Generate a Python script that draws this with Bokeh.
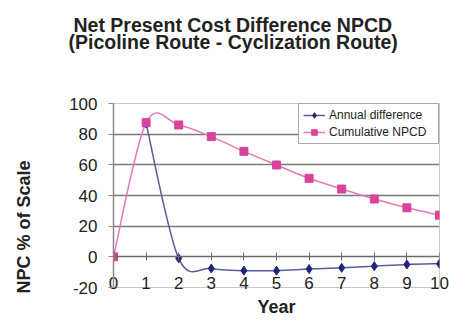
from bokeh.plotting import figure
from bokeh.embed import file_html
from bokeh.resources import INLINE
from bokeh.models import (Title, Legend, LegendItem, FixedTicker, Range1d,
                          LinearAxis, PrintfTickFormatter)

years = [0, 1, 2, 3, 4, 5, 6, 7, 8, 9, 10]
annual_years = [1, 2, 3, 4, 5, 6, 7, 8, 9, 10]
annual = [87, -1, -7.6, -9, -9, -8, -7.2, -6.1, -5, -4.5]
cumulative = [0, 87.5, 86, 78.4, 68.8, 59.9, 51.2, 44.2, 37.7, 32, 27.2]
y_ticks = [-20, 0, 20, 40, 60, 80, 100]
title1 = "Net Present Cost Difference NPCD"
title2 = "(Picoline Route - Cyclization Route)"
y_label = "NPC % of Scale"
x_label = "Year"
names = ["Annual difference", "Cumulative NPCD"]

FONT = "Liberation Sans"
TXT = "#222222"
NAVY_LINE = "#5a5a9c"
NAVY = "#23237a"
PINK_LINE = "#e27ab4"
PINK = "#d8439c"


def smooth_segments(xs, ys):
    # Excel-like smoothed line: cubic Bezier control points from neighbours
    n = len(xs)
    seg = dict(x0=[], y0=[], x1=[], y1=[], cx0=[], cy0=[], cx1=[], cy1=[])
    for i in range(n - 1):
        xp, yp = (xs[i - 1], ys[i - 1]) if i > 0 else (xs[i], ys[i])
        xn2, yn2 = (xs[i + 2], ys[i + 2]) if i + 2 < n else (xs[i + 1], ys[i + 1])
        seg["x0"].append(xs[i]); seg["y0"].append(ys[i])
        seg["x1"].append(xs[i + 1]); seg["y1"].append(ys[i + 1])
        seg["cx0"].append(xs[i] + (xs[i + 1] - xp) / 6)
        seg["cy0"].append(ys[i] + (ys[i + 1] - yp) / 6)
        seg["cx1"].append(xs[i + 1] - (xn2 - xs[i]) / 6)
        seg["cy1"].append(ys[i + 1] - (yn2 - ys[i]) / 6)
    return seg


p = figure(width=449, height=322, output_backend="svg", toolbar_location=None,
           x_range=Range1d(0, 10), y_range=Range1d(-20, 100),
           min_border_left=113, min_border_right=10, min_border_top=103,
           min_border_bottom=35)
p.background_fill_color = "white"
p.border_fill_color = "white"
p.outline_line_color = "#c8c8c8"
p.outline_line_width = 1

# spacer between plot and title, then the two title lines
p.add_layout(Title(text=" ", text_font=FONT, text_font_size="44px",
                   standoff=0), "above")
p.add_layout(Title(text=title2, align="left", offset=-45,
                   text_font=FONT, text_font_size="19.5px",
                   text_font_style="bold", text_color=TXT, standoff=0), "above")
p.add_layout(Title(text=title1, align="left", offset=-40,
                   text_font=FONT, text_font_size="19.5px",
                   text_font_style="bold", text_color=TXT, standoff=-14), "above")

# grid
p.xgrid.visible = False
p.ygrid.ticker = FixedTicker(ticks=[20, 40, 60, 80])
p.ygrid.grid_line_color = "#7a7a7a"
p.ygrid.grid_line_width = 1.5

# y axis
p.yaxis.ticker = FixedTicker(ticks=y_ticks)
p.yaxis.formatter = PrintfTickFormatter(format="%d")
p.yaxis.axis_line_color = "#8a8a8a"
p.yaxis.axis_line_width = 1.5
p.yaxis.major_tick_line_color = "#8a8a8a"
p.yaxis.major_tick_out = 5
p.yaxis.major_tick_in = 0
p.yaxis.minor_tick_line_color = None
p.yaxis.major_label_text_font = FONT
p.yaxis.major_label_text_font_size = "17px"
p.yaxis.major_label_text_color = TXT
p.yaxis.major_label_standoff = 11

# y axis title on the left side, with a spacer next to the axis
p.add_layout(Title(text=" ", text_font=FONT, text_font_size="28px",
                   standoff=0), "left")
p.add_layout(Title(text=y_label, align="left", offset=-6, text_font=FONT,
                   text_font_size="18px", text_font_style="bold",
                   text_color=TXT, standoff=0), "left")

# x axis: labels at the bottom, drawn just above the -20 line
p.xaxis.ticker = FixedTicker(ticks=years)
p.xaxis.axis_line_color = None
p.xaxis.major_tick_line_color = None
p.xaxis.minor_tick_line_color = None
p.xaxis.major_tick_out = 0
p.xaxis.major_tick_in = 0
p.xaxis.major_label_text_font = FONT
p.xaxis.major_label_text_font_size = "17px"
p.xaxis.major_label_text_color = TXT
p.xaxis.major_label_standoff = -11
p.xaxis.axis_label = x_label
p.xaxis.axis_label_text_font = FONT
p.xaxis.axis_label_text_font_size = "18px"
p.xaxis.axis_label_text_font_style = "bold"
p.xaxis.axis_label_text_color = TXT
p.xaxis.axis_label_standoff = 5

# horizontal axis line crossing at 0 with tick marks
zero_axis = LinearAxis(fixed_location=0, ticker=FixedTicker(ticks=years),
                       axis_line_color="#6a6a6a", axis_line_width=1.5,
                       major_tick_line_color="#6a6a6a", major_tick_in=4,
                       major_tick_out=4, minor_tick_line_color=None,
                       major_label_text_color=None)
p.add_layout(zero_axis, "below")

# series
s1 = smooth_segments(annual_years, annual)
s2 = smooth_segments(years, cumulative)
p.bezier(source=s1, x0="x0", y0="y0", x1="x1", y1="y1", cx0="cx0", cy0="cy0",
         cx1="cx1", cy1="cy1", line_color=NAVY_LINE, line_width=1.5)
p.bezier(source=s2, x0="x0", y0="y0", x1="x1", y1="y1", cx0="cx0", cy0="cy0",
         cx1="cx1", cy1="cy1", line_color=PINK_LINE, line_width=1.5)
p.scatter(annual_years, annual, marker="diamond", size=9, fill_color=NAVY,
          line_color=NAVY)
p.scatter(years, cumulative, marker="square", size=8, fill_color=PINK,
          line_color=PINK)

# legend proxies
l1 = p.line([0, 0], [0, 0], line_color=NAVY_LINE, line_width=1.5, visible=False)
l2 = p.line([0, 0], [0, 0], line_color=PINK_LINE, line_width=1.5, visible=False)
lm1 = p.scatter([0], [0], marker="diamond", size=8, fill_color=NAVY,
                line_color=NAVY, visible=False)
lm2 = p.scatter([0], [0], marker="square", size=7, fill_color=PINK,
                line_color=PINK, visible=False)
legend = Legend(items=[LegendItem(label=names[0], renderers=[l1, lm1]),
                       LegendItem(label=names[1], renderers=[l2, lm2])],
                location="top_right", margin=0, padding=4, spacing=3,
                border_line_color="#555555", border_line_width=1,
                background_fill_color="white", background_fill_alpha=1,
                label_text_font=FONT, label_text_font_size="12px",
                label_text_color=TXT, glyph_width=22, glyph_height=14,
                label_height=14, label_width=105, label_standoff=4)
p.add_layout(legend)

open("out.html", "w").write(file_html(p, INLINE))
